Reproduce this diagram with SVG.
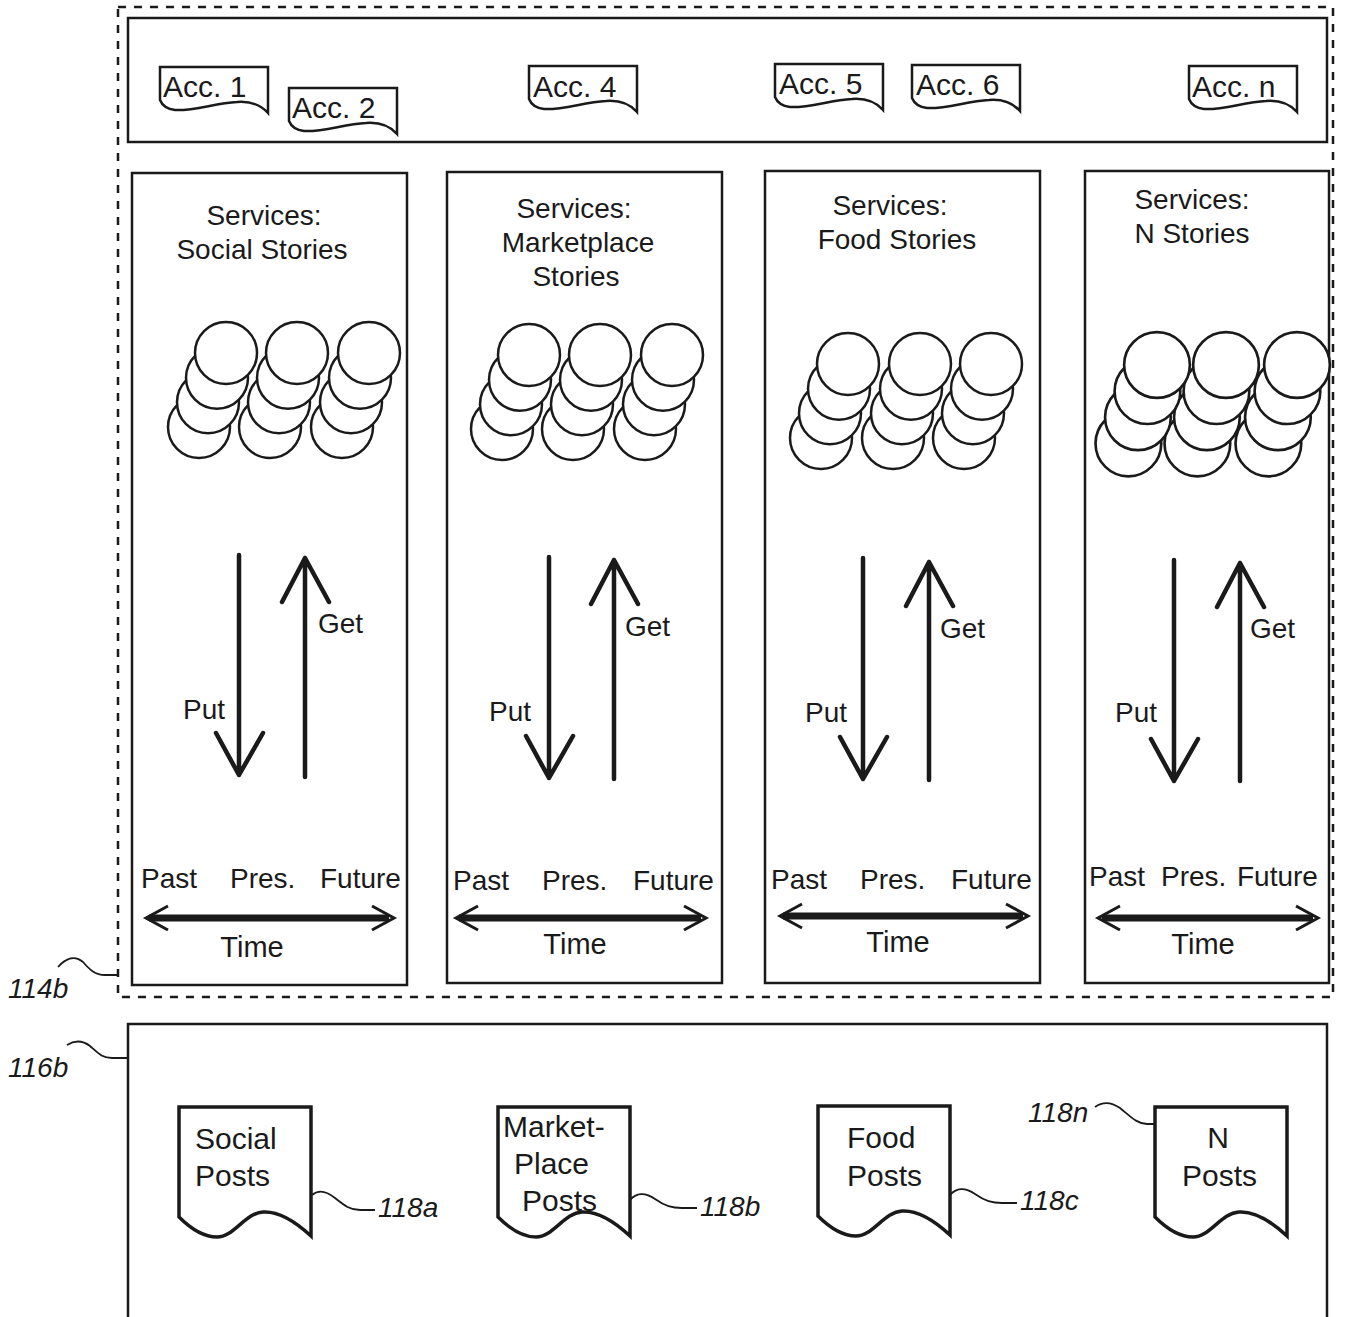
<svg xmlns="http://www.w3.org/2000/svg" xmlns:xlink="http://www.w3.org/1999/xlink" width="1350" height="1317" viewBox="0 0 1350 1317">
<style>
.bg{fill:#fff}
.ln{fill:none;stroke:#1a1a1a;stroke-width:2.5}
.dash{fill:none;stroke:#1a1a1a;stroke-width:2.5;stroke-dasharray:8 8}
.box{fill:#fff;stroke:#1a1a1a;stroke-width:2.5}
.doc{fill:#fff;stroke:#1a1a1a;stroke-width:2.5}
.pdoc{fill:#fff;stroke:#1a1a1a;stroke-width:3.5}
.circ{fill:#fff;stroke:#1a1a1a;stroke-width:2.5}
.arr{fill:none;stroke:#1a1a1a;stroke-width:4.5;stroke-linecap:round;stroke-linejoin:round}
.tarr{fill:none;stroke:#1a1a1a;stroke-width:7}
.chev{fill:none;stroke:#1a1a1a;stroke-width:3}
.lead{fill:none;stroke:#1a1a1a;stroke-width:1.8}
.t{font-family:"Liberation Sans",Arial,sans-serif;fill:#1a1a1a;font-size:28px}
.ta{font-size:30px}
.tc{text-anchor:middle}
.tm{font-size:29px}
.tp{font-size:30px}
.lbl{font-family:"Liberation Sans",Arial,sans-serif;fill:#1a1a1a;font-size:28px;font-style:italic}
</style>
<defs>
<path id="accdoc" d="M0,0 H108 V46 C100,37 90,34 77,35 C55,36 35,44 15,43 C7,42 2,38 0,33 Z"/>
<path id="postdoc" d="M0,0 H132 V129 C118,116 100,104 84,105 C66,106 55,130 38,130 C22,130 8,118 0,110 Z"/>
<g id="stack">
<circle class="circ" cx="-27" cy="74" r="31"/>
<circle class="circ" cx="-18" cy="49.3" r="31"/>
<circle class="circ" cx="-9" cy="24.7" r="31"/>
<circle class="circ" cx="0" cy="0" r="31"/>
</g>
</defs>
<rect class="bg" x="0" y="0" width="1350" height="1317"/>

<g id="node-114b">
<rect class="dash" x="118" y="7" width="1215" height="990"/>
</g>

<g id="accounts">
<rect class="box" x="128" y="18" width="1199" height="124"/>
<g id="acc-1"><use href="#accdoc" class="doc" x="160" y="67"/><text class="t ta" x="163" y="97">Acc. 1</text></g>
<g id="acc-2"><use href="#accdoc" class="doc" x="289" y="88"/><text class="t ta" x="292" y="118">Acc. 2</text></g>
<g id="acc-4"><use href="#accdoc" class="doc" x="529" y="66"/><text class="t ta" x="533" y="97">Acc. 4</text></g>
<g id="acc-5"><use href="#accdoc" class="doc" x="775" y="64"/><text class="t ta" x="779" y="94">Acc. 5</text></g>
<g id="acc-6"><use href="#accdoc" class="doc" x="912" y="65"/><text class="t ta" x="916" y="95">Acc. 6</text></g>
<g id="acc-n"><use href="#accdoc" class="doc" x="1189" y="66"/><text class="t ta" x="1192" y="97">Acc. n</text></g>
</g>

<g id="col-social">
<rect class="box" x="132" y="173" width="275" height="812"/>
<text class="t tc" x="264" y="225">Services:</text>
<text class="t tc" x="262" y="259">Social Stories</text>
<use href="#stack" x="369" y="353"/>
<use href="#stack" x="297" y="353"/>
<use href="#stack" x="226" y="353"/>
<text class="t" x="318" y="633">Get</text>
<text class="t" x="183" y="719">Put</text>
<text class="t" x="141" y="888">Past</text>
<text class="t" x="230" y="888">Pres.</text>
<text class="t" x="320" y="888">Future</text>
<text class="t tm tc" x="252" y="957">Time</text>
</g>

<g id="col-marketplace">
<rect class="box" x="447" y="172" width="275" height="811"/>
<text class="t tc" x="574" y="218">Services:</text>
<text class="t tc" x="578" y="252">Marketplace</text>
<text class="t tc" x="576" y="286">Stories</text>
<use href="#stack" x="672" y="355"/>
<use href="#stack" x="600" y="355"/>
<use href="#stack" x="529" y="355"/>
<text class="t" x="625" y="636">Get</text>
<text class="t" x="489" y="721">Put</text>
<text class="t" x="453" y="890">Past</text>
<text class="t" x="542" y="890">Pres.</text>
<text class="t" x="633" y="890">Future</text>
<text class="t tm tc" x="575" y="954">Time</text>
</g>

<g id="col-food">
<rect class="box" x="765" y="171" width="275" height="812"/>
<text class="t tc" x="890" y="215">Services:</text>
<text class="t tc" x="897" y="249">Food Stories</text>
<use href="#stack" x="991" y="364"/>
<use href="#stack" x="920" y="364"/>
<use href="#stack" x="848" y="364"/>
<text class="t" x="940" y="638">Get</text>
<text class="t" x="805" y="722">Put</text>
<text class="t" x="771" y="889">Past</text>
<text class="t" x="860" y="889">Pres.</text>
<text class="t" x="951" y="889">Future</text>
<text class="t tm tc" x="898" y="952">Time</text>
</g>

<g id="col-n">
<rect class="box" x="1085" y="171" width="244" height="812"/>
<text class="t tc" x="1192" y="209">Services:</text>
<text class="t tc" x="1192" y="243">N Stories</text>
<use href="#stack" transform="translate(1297,365) scale(1.06)"/>
<use href="#stack" transform="translate(1226,365) scale(1.06)"/>
<use href="#stack" transform="translate(1157,365) scale(1.06)"/>
<text class="t" x="1250" y="638">Get</text>
<text class="t" x="1115" y="722">Put</text>
<text class="t" x="1089" y="886">Past</text>
<text class="t" x="1161" y="886">Pres.</text>
<text class="t" x="1237" y="886">Future</text>
<text class="t tm tc" x="1203" y="954">Time</text>
</g>

<g id="node-116b">
<path class="ln" d="M128,1317 V1024 H1327 V1317"/>
</g>
<g id="post-social"><use href="#postdoc" class="pdoc" x="179" y="1107"/><text class="t tp" x="195" y="1149">Social</text><text class="t tp" x="195" y="1186">Posts</text></g>
<g id="post-marketplace"><use href="#postdoc" class="pdoc" x="498" y="1107"/><text class="t tp" x="503" y="1137">Market-</text><text class="t tp" x="514" y="1174">Place</text><text class="t tp" x="522" y="1211">Posts</text></g>
<g id="post-food"><use href="#postdoc" class="pdoc" x="818" y="1106"/><text class="t tp" x="847" y="1148">Food</text><text class="t tp" x="847" y="1186">Posts</text></g>
<g id="post-n"><use href="#postdoc" class="pdoc" x="1155" y="1107"/><text class="t tp tc" x="1218" y="1148">N</text><text class="t tp" x="1182" y="1186">Posts</text></g>

<g id="connectors">
<path class="arr" d="M239,555 V775 M216,733 L239,775 L263,733"/>
<path class="arr" d="M305,777 V558 M282,602 L305,558 L329,602"/>
<path class="tarr" d="M149,918 H389"/>
<path class="chev" d="M168,906 L146,918 L168,930 M372,906 L394,918 L372,930"/>
<path class="arr" d="M549,557 V778 M526,736 L549,778 L573,736"/>
<path class="arr" d="M614,779 V560 M591,604 L614,560 L638,604"/>
<path class="tarr" d="M459,918 H701"/>
<path class="chev" d="M478,906 L456,918 L478,930 M684,906 L706,918 L684,930"/>
<path class="arr" d="M863,558 V779 M840,737 L863,779 L887,737"/>
<path class="arr" d="M929,780 V562 M906,606 L929,562 L953,606"/>
<path class="tarr" d="M783,916 H1023"/>
<path class="chev" d="M802,904 L780,916 L802,928 M1006,904 L1028,916 L1006,928"/>
<path class="arr" d="M1174,560 V781 M1151,739 L1174,781 L1198,739"/>
<path class="arr" d="M1240,781 V563 M1217,607 L1240,563 L1264,607"/>
<path class="tarr" d="M1102,918 H1313"/>
<path class="chev" d="M1120,906 L1098,918 L1120,930 M1296,906 L1318,918 L1296,930"/>
<path class="lead" d="M58,967 C66,958 75,955 83,962 C90,970 95,975 105,975 H118"/>
<path class="lead" d="M67,1045 C75,1040 82,1040 90,1046 C98,1053 102,1058 112,1058 H128"/>
<path class="lead" d="M312,1195 C318,1190 325,1190 335,1198 C345,1206 350,1210 360,1210 H375"/>
<path class="lead" d="M630,1200 C636,1193 645,1192 655,1199 C665,1206 672,1208 682,1208 H697"/>
<path class="lead" d="M950,1195 C956,1188 965,1187 975,1194 C985,1201 992,1203 1002,1203 H1017"/>
<path class="lead" d="M1095,1107 C1102,1102 1110,1101 1120,1108 C1130,1116 1137,1124 1147,1124 H1155"/>
</g>

<g id="labels">
<text class="lbl" x="8" y="998">114b</text>
<text class="lbl" x="8" y="1077">116b</text>
<text class="lbl" x="378" y="1217">118a</text>
<text class="lbl" x="700" y="1216">118b</text>
<text class="lbl" x="1020" y="1210">118c</text>
<text class="lbl" x="1028" y="1122">118n</text>
</g>
</svg>
